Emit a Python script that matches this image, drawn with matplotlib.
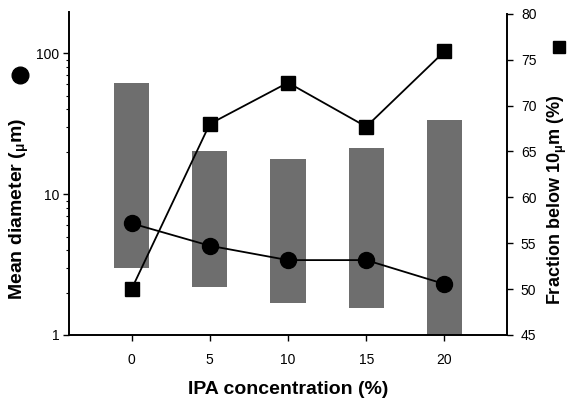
import matplotlib
matplotlib.use("Agg")
import matplotlib.pyplot as plt
from matplotlib.lines import Line2D
from matplotlib.ticker import FixedLocator, LogLocator, NullFormatter

plt.rcParams['font.family'] = ['Liberation Sans', 'DejaVu Sans']

ipa = [0, 5, 10, 15, 20]
mean_diam = [6.2, 4.3, 3.4, 3.4, 2.3]
fraction_below = [50.0, 68.0, 72.5, 67.7, 75.9]
range_low = [3.0, 2.2, 1.7, 1.55, 1.0]
range_high = [61, 20.3, 17.8, 21.3, 33.8]
xtick_labels = ['0', '5', '10', '15', '20']

fig = plt.figure(figsize=(5.69, 4.01), dpi=100)
ax = fig.add_axes([69/569, 1-335/401, (507-69)/569, (335-12)/401])
ax2 = ax.twinx()

heights = [h - l for h, l in zip(range_high, range_low)]
ax.bar(ipa, heights, bottom=range_low, width=2.25, color='#6e6e6e', zorder=1)
ax.plot(ipa, mean_diam, color='black', lw=1.3, marker='o', ms=11.5, zorder=3)
ax2.plot(ipa, fraction_below, color='black', lw=1.3, marker='s', ms=9.5, zorder=3)

ax.set_yscale('log')
ax.set_ylim(1, 196)
ax.set_xlim(-4, 24)
ax2.set_ylim(45, 80.2)

ax.set_xticks(ipa)
ax.set_xticklabels(xtick_labels)
ax.yaxis.set_major_locator(FixedLocator([1, 10, 100]))
ax.set_yticklabels(['1', '10', '100'])
ax.yaxis.set_minor_locator(LogLocator(base=10, subs=range(2, 10)))
ax.yaxis.set_minor_formatter(NullFormatter())
ax2.set_yticks([45, 50, 55, 60, 65, 70, 75, 80])

for a in (ax, ax2):
    a.spines['top'].set_visible(False)
    a.tick_params(labelsize=10, length=4, width=1, direction='out')
    a.tick_params(which='minor', length=2.5, width=0.8)
ax.spines['right'].set_visible(False)
ax2.spines['left'].set_visible(False)
ax2.spines['bottom'].set_visible(False)
ax2.spines['right'].set_bounds(45, 80)
for s in ('left', 'bottom'):
    ax.spines[s].set_linewidth(1.4)
ax2.spines['right'].set_linewidth(1.4)
ax.tick_params(axis='x', pad=9)
ax.tick_params(axis='y', pad=3)
ax2.tick_params(axis='y', pad=6)

ax.set_xlabel('IPA concentration (%)', fontsize=14, fontweight='bold')
ax.xaxis.label.set_verticalalignment('center')
ax.xaxis.set_label_coords(0.5, (335-389)/323)

ax.set_ylabel('Mean diameter ($\\mathregular{_{\\mu}}$m)', fontsize=14, fontweight='bold')
ax2.set_ylabel('Fraction below 10$\\mathregular{_{\\mu}}$m (%)', fontsize=13, fontweight='bold',
               rotation=90)
for a, xc, yc in ((ax, (19-69)/438, (335-209)/323), (ax2, (557-69)/438, (335-200)/323)):
    lab = a.yaxis.label
    lab.set_rotation_mode('default')
    lab.set_verticalalignment('center')
    lab.set_horizontalalignment('center')
    a.yaxis.set_label_coords(xc, yc)

fig.add_artist(Line2D([20/569], [1-75/401], marker='o', ms=12, color='black', ls='none',
                      transform=fig.transFigure))
fig.add_artist(Line2D([559/569], [1-47/401], marker='s', ms=8.5, color='black', ls='none',
                      transform=fig.transFigure))

fig.savefig('out.png', dpi=100)
